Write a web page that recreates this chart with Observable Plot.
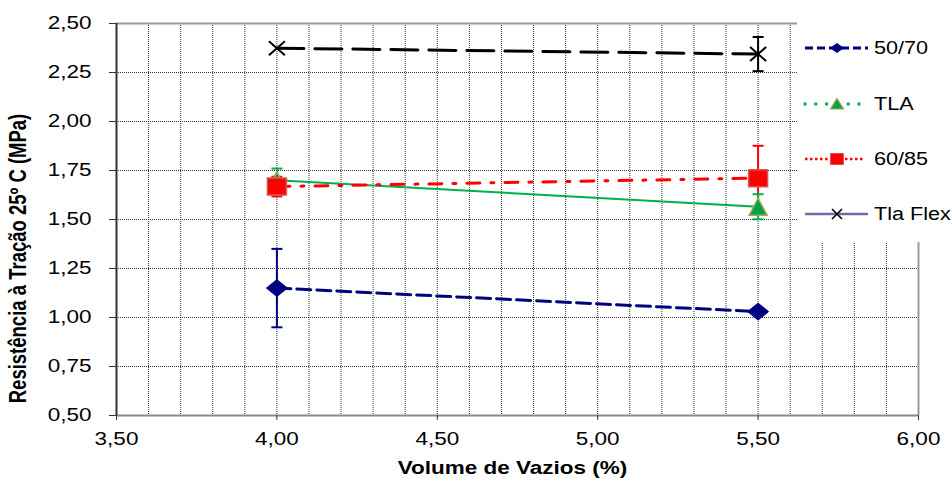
<!DOCTYPE html>
<html>
<head>
<meta charset="utf-8">
<script src="https://cdn.jsdelivr.net/npm/d3@7"></script>
<script src="https://cdn.jsdelivr.net/npm/@observablehq/plot@0.6"></script>
<style>
  html, body { margin: 0; padding: 0; background: #fff; }
  #wrap { position: relative; width: 952px; height: 481px; }
  #legend { position: absolute; left: 797px; top: 0; width: 155px; height: 242px; background: #fff; }
</style>
</head>
<body>
<div id="wrap"><svg id="legend" width="155" height="242"></svg></div>
<script>
// Volume de vazios (%) tested for each binder
const volume = [4.0, 5.5];
const seriesNames = ["50/70", "TLA", "60/85", "Tla Flex"];

// Indirect tensile strength at 25 ºC (MPa) and the error bar half-width
const rt5070 = [1.15, 1.03];
const err5070 = [0.20, 0];
const rtTLA = [1.70, 1.565];
const errTLA = [0.06, 0.064];
const rt6085 = [1.668, 1.711];
const err6085 = [0.05, 0.165];
const rtFlex = [2.374, 2.344];
const errFlex = [0, 0.087];

const xTicks = [3.5, 4.0, 4.5, 5.0, 5.5, 6.0];
const yTicks = [0.5, 0.75, 1.0, 1.25, 1.5, 1.75, 2.0, 2.25, 2.5];

const comma = d => d3.format(".2f")(d).replace(".", ",");

function rows(name, values, errs) {
  return volume.map((x, i) => ({series: name, x, y: values[i], err: errs[i]}));
}
const d5070 = rows(seriesNames[0], rt5070, err5070);
const dTLA = rows(seriesNames[1], rtTLA, errTLA);
const d6085 = rows(seriesNames[2], rt6085, err6085);
const dFlex = rows(seriesNames[3], rtFlex, errFlex);

// marker shapes (fixed pixel sizes)
const diamond = (w, h) => ({draw(c) { c.moveTo(0, -h / 2); c.lineTo(w / 2, 0); c.lineTo(0, h / 2); c.lineTo(-w / 2, 0); c.closePath(); }});
const rect = (w, h) => ({draw(c) { c.rect(-w / 2, -h / 2, w, h); }});
const tri = (w, h) => ({draw(c) { c.moveTo(0, -h / 2); c.lineTo(w / 2, h / 2); c.lineTo(-w / 2, h / 2); c.closePath(); }});
const cross = (w, h) => ({draw(c) { c.moveTo(-w / 2, -h / 2); c.lineTo(w / 2, h / 2); c.moveTo(w / 2, -h / 2); c.lineTo(-w / 2, h / 2); }});
const cap = w => ({draw(c) { c.moveTo(-w / 2, 0); c.lineTo(w / 2, 0); }});

function errorBars(data, color) {
  const e = data.filter(d => d.err > 0);
  return [
    Plot.ruleX(e, {x: "x", y1: d => d.y - d.err, y2: d => d.y + d.err, stroke: color, strokeWidth: 2}),
    Plot.dot(e, {x: "x", y: d => d.y + d.err, symbol: cap(11), stroke: color, fill: "none", strokeWidth: 2}),
    Plot.dot(e, {x: "x", y: d => d.y - d.err, symbol: cap(11), stroke: color, fill: "none", strokeWidth: 2})
  ];
}

const navy = "#000080", green = "#00B050", red = "#FF0000";
const font = "'Liberation Sans', Arial, sans-serif";

const chart = Plot.plot({
  width: 952,
  height: 481,
  marginLeft: 116,
  marginRight: 34,
  marginTop: 23,
  marginBottom: 66,
  style: {fontFamily: font, fontSize: "18px", color: "#000", background: "#fff"},
  x: {domain: [3.5, 6.0]},
  y: {domain: [0.5, 2.5]},
  marks: [
    // dotted grid
    Plot.ruleX(d3.range(36, 60).map(d => d / 10), {stroke: "#333", strokeWidth: 1, strokeDasharray: "1,1"}),
    Plot.ruleY(yTicks.slice(1, -1), {stroke: "#333", strokeWidth: 1, strokeDasharray: "1,1"}),
    // plot area border
    Plot.ruleY([2.5], {stroke: "#999", strokeWidth: 2}),
    Plot.ruleX([6.0], {stroke: "#999", strokeWidth: 2}),
    Plot.ruleY([0.5], {stroke: "#888", strokeWidth: 2}),
    Plot.ruleX([3.5], {stroke: "#333", strokeWidth: 2}),
    // series lines
    Plot.line(d5070, {x: "x", y: "y", stroke: navy, strokeWidth: 3, strokeDasharray: "14,6"}),
    Plot.line(dTLA, {x: "x", y: "y", stroke: green, strokeWidth: 2}),
    Plot.line(d6085, {x: "x", y: "y", stroke: red, strokeWidth: 3, strokeDasharray: "13,11,3,11"}),
    Plot.line(dFlex, {x: "x", y: "y", stroke: "#000", strokeWidth: 3, strokeDasharray: "27,11"}),
    // error bars
    ...errorBars(d5070, navy),
    ...errorBars(d6085, red),
    ...errorBars(dTLA, green),
    ...errorBars(dFlex, "#000"),
    // markers
    Plot.dot(d5070, {x: "x", y: "y", symbol: diamond(21, 17), fill: navy, stroke: navy, strokeWidth: 1}),
    Plot.dot(dTLA, {x: "x", y: "y", symbol: tri(18, 17), fill: "#00A34A", stroke: "#A8A848", strokeWidth: 1.5}),
    Plot.dot(d6085, {x: "x", y: "y", symbol: rect(19, 17), fill: red, stroke: "#D05858", strokeWidth: 1.5}),
    Plot.dot(dFlex, {x: "x", y: "y", symbol: cross(16, 14), fill: "none", stroke: "#000", strokeWidth: 2}),
    // axis titles
    Plot.text(["Resistência à Tração 25º C (MPa)"], {frameAnchor: "left", textAnchor: "middle", lineAnchor: "middle", rotate: -90, dx: -98, dy: 39, fontWeight: "bold", fontSize: 18.5}),
    Plot.text(["Volume de Vazios (%)"], {frameAnchor: "bottom", textAnchor: "middle", lineAnchor: "middle", dx: -5, dy: 53, fontWeight: "bold", fontSize: 18}),
    Plot.axisX({ticks: xTicks, tickFormat: comma, tickSize: 5, tickPadding: 12, label: null, stroke: "#333"}),
    Plot.axisY({ticks: yTicks, tickFormat: comma, tickSize: 7, tickPadding: 18, label: null, stroke: "#333"})
  ]
});
document.getElementById("wrap").prepend(chart);

// legend entries: line sample, marker and name
const legendItems = [
  {name: seriesNames[0], cy: 48, line: `<line x1="8" x2="71" stroke="${navy}" stroke-width="3" stroke-dasharray="8,4"/>`,
   marker: `<path d="M40,-5 L47,0 L40,5 L33,0 Z" fill="${navy}"/>`},
  {name: seriesNames[1], cy: 104, line: `<line x1="8" x2="66" stroke="${green}" stroke-width="3.5" stroke-linecap="round" stroke-dasharray="0,10.8"/>`,
   marker: `<path d="M40,-5.5 L46.5,5 L33.5,5 Z" fill="#00A34A" stroke="#A8A848" stroke-width="1.2"/>`},
  {name: seriesNames[2], cy: 159, line: `<line x1="8" x2="68" stroke="${red}" stroke-width="2.5" stroke-dasharray="2.5,2.5"/>`,
   marker: `<rect x="33.5" y="-5.5" width="13" height="11" fill="${red}" stroke="#D05858" stroke-width="1"/>`},
  {name: seriesNames[3], cy: 214, line: `<line x1="8" x2="71" stroke="#8064A2" stroke-width="2.5"/>`,
   marker: `<path d="M35,-5 L45,5 M45,-5 L35,5" stroke="#000" stroke-width="1.6" fill="none"/>`}
];
const legend = document.getElementById("legend");
legend.innerHTML = legendItems.map(it =>
  `<g transform="translate(0,${it.cy})">${it.line}${it.marker}` +
  `<text x="77" y="0" dy="0.35em" font-family="${font.replace(/'/g, "")}" font-size="18" fill="#000">${it.name}</text></g>`
).join("");

// widen the lettering horizontally, as the labels are drawn on a wide canvas
function widen(root, k) {
  root.querySelectorAll("text").forEach(t => {
    const tr = t.getAttribute("transform") || "";
    if (tr.includes("rotate")) {
      t.setAttribute("transform", tr.replace("rotate", `scale(${k},1) rotate`));
      return;
    }
    const w = t.getComputedTextLength();
    if (w > 0) {
      t.setAttribute("textLength", (w * k).toFixed(1));
      t.setAttribute("lengthAdjust", "spacingAndGlyphs");
    }
  });
}
widen(chart, 1.25);
widen(legend, 1.2);
</script>
</body>
</html>
